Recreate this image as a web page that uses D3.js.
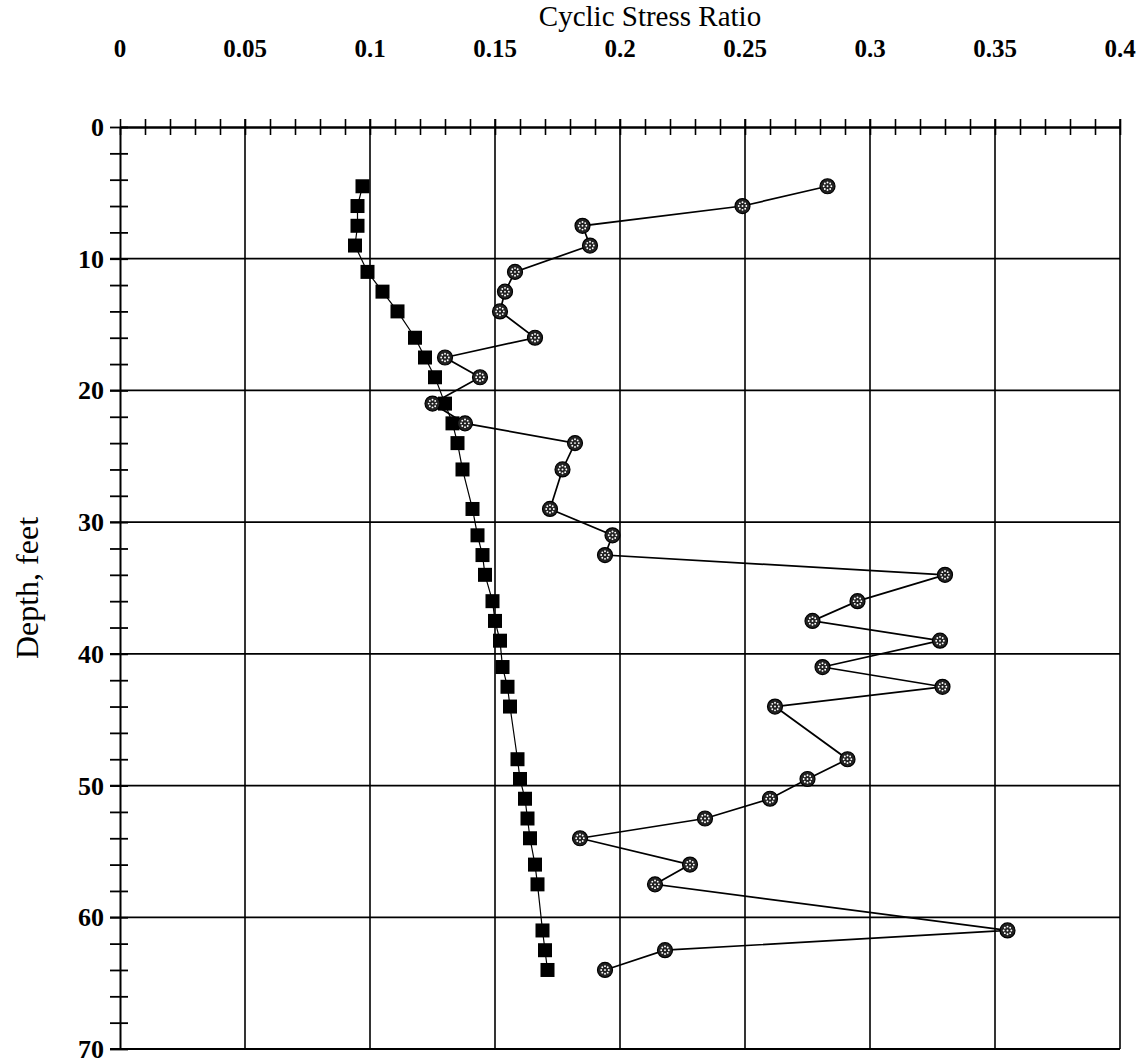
<!DOCTYPE html>
<html>
<head>
<meta charset="utf-8">
<script src="https://cdn.jsdelivr.net/npm/d3@7/dist/d3.min.js"></script>
<style>
  html, body { margin: 0; padding: 0; background: #fff; }
  svg { display: block; }
  text { font-family: "Liberation Serif", "Times New Roman", serif; fill: #000; }
</style>
</head>
<body>
<svg id="chart" width="1144" height="1063"></svg>
<script>
// Sample depths (feet) shared by both profiles
const depths = [4.5, 6, 7.5, 9, 11, 12.5, 14, 16, 17.5, 19, 21, 22.5, 24, 26, 29, 31, 32.5,
  34, 36, 37.5, 39, 41, 42.5, 44, 48, 49.5, 51, 52.5, 54, 56, 57.5, 61, 62.5, 64];

// Induced cyclic stress ratio (square markers)
const csrInduced = [0.097, 0.095, 0.095, 0.094, 0.099, 0.105, 0.111, 0.118, 0.122, 0.126, 0.130,
  0.133, 0.135, 0.137, 0.141, 0.143, 0.145, 0.146, 0.149, 0.150, 0.152, 0.153, 0.155, 0.156,
  0.159, 0.160, 0.162, 0.163, 0.164, 0.166, 0.167, 0.169, 0.170, 0.171];

// Cyclic resistance ratio (patterned circle markers)
const csrResistance = [0.283, 0.249, 0.185, 0.188, 0.158, 0.154, 0.152, 0.166, 0.130, 0.144,
  0.125, 0.138, 0.182, 0.177, 0.172, 0.197, 0.194, 0.330, 0.295, 0.277, 0.328, 0.281, 0.329,
  0.262, 0.291, 0.275, 0.260, 0.234, 0.184, 0.228, 0.214, 0.355, 0.218, 0.194];

const xTickValues = [0, 0.05, 0.1, 0.15, 0.2, 0.25, 0.3, 0.35, 0.4];
const xTickLabels = ["0", "0.05", "0.1", "0.15", "0.2", "0.25", "0.3", "0.35", "0.4"];
const yTickValues = [0, 10, 20, 30, 40, 50, 60, 70];
const yTickLabels = ["0", "10", "20", "30", "40", "50", "60", "70"];

const margin = { left: 120, right: 24, top: 127, bottom: 14 };
const W = 1144, H = 1063;
const svg = d3.select("#chart");

const x = d3.scaleLinear().domain([0, 0.4]).range([margin.left, W - margin.right]);
const y = d3.scaleLinear().domain([0, 70]).range([margin.top, H - margin.bottom]);

const g = svg.append("g");

// Grid lines
g.append("g").selectAll("line").data(xTickValues.slice(1)).join("line")
  .attr("x1", d => x(d)).attr("x2", d => x(d))
  .attr("y1", y(0) - 8).attr("y2", y(70))
  .attr("stroke", "#000").attr("stroke-width", 1.6);
g.append("g").selectAll("line").data(yTickValues.slice(1)).join("line")
  .attr("x1", x(0) - 10).attr("x2", x(0.4))
  .attr("y1", d => y(d)).attr("y2", d => y(d))
  .attr("stroke", "#000").attr("stroke-width", 1.8);

// Top axis: line with minor ticks every 0.01
const topAxis = d3.axisTop(x)
  .tickValues(d3.range(0, 41).map(i => i / 100))
  .tickSize(8).tickSizeOuter(0).tickFormat("");
const topG = g.append("g").attr("transform", `translate(0,${y(0)})`).call(topAxis);
topG.select(".domain").attr("stroke-width", 2.4);
topG.selectAll(".tick line").attr("y2", 16).attr("transform", "translate(0,-8)")
  .attr("y1", 0).attr("stroke-width", 1.6);

// Left axis: line with minor ticks every 2 feet
const leftAxis = d3.axisLeft(y)
  .tickValues(d3.range(0, 71, 2))
  .tickSize(10).tickSizeOuter(0).tickFormat("");
const leftG = g.append("g").attr("transform", `translate(${x(0)},0)`).call(leftAxis);
leftG.select(".domain").attr("stroke-width", 2);
leftG.selectAll(".tick line").attr("x1", 8).attr("stroke-width", 1.8);

// Top tick labels
g.append("g").selectAll("text").data(xTickValues).join("text")
  .attr("x", d => x(d)).attr("y", 57)
  .attr("text-anchor", "middle")
  .attr("font-size", 25).attr("font-weight", "bold")
  .text((d, i) => xTickLabels[i]);

// Left tick labels
g.append("g").selectAll("text").data(yTickValues).join("text")
  .attr("x", x(0) - 16).attr("y", d => y(d) + 9)
  .attr("text-anchor", "end")
  .attr("font-size", 26).attr("font-weight", "bold")
  .text((d, i) => yTickLabels[i]);

// Axis titles
svg.append("text").attr("x", 650).attr("y", 26)
  .attr("text-anchor", "middle").attr("font-size", 29)
  .text("Cyclic Stress Ratio");
svg.append("text")
  .attr("transform", `translate(38,${y(35)}) rotate(-90)`)
  .attr("text-anchor", "middle").attr("font-size", 32)
  .text("Depth, feet");

// Profile lines
const induced = depths.map((d, i) => ({ depth: d, v: csrInduced[i] }));
const resist = depths.map((d, i) => ({ depth: d, v: csrResistance[i] }));
const line = d3.line().x(d => x(d.v)).y(d => y(d.depth));

g.append("path").datum(induced).attr("d", line)
  .attr("fill", "none").attr("stroke", "#000").attr("stroke-width", 1.2);
g.append("path").datum(resist).attr("d", line)
  .attr("fill", "none").attr("stroke", "#000").attr("stroke-width", 1.7);

// Square markers
g.append("g").selectAll("rect").data(induced).join("rect")
  .attr("x", d => x(d.v) - 7).attr("y", d => y(d.depth) - 7)
  .attr("width", 14).attr("height", 14).attr("fill", "#000");

// Patterned circle markers
const circ = g.append("g").selectAll("g").data(resist).join("g")
  .attr("transform", d => `translate(${x(d.v)},${y(d.depth)})`);
circ.append("circle").attr("r", 7.5).attr("fill", "#222").attr("stroke", "#000").attr("stroke-width", 1.2);
const dots = [[0, 0], [-2.7, -2.7], [2.7, -2.7], [-2.7, 2.7], [2.7, 2.7], [0, -3.8], [0, 3.8], [-3.8, 0], [3.8, 0]];
circ.selectAll("circle.dot").data(dots).join("circle").attr("class", "dot")
  .attr("cx", p => p[0]).attr("cy", p => p[1]).attr("r", 0.95).attr("fill", "#fff");
</script>
</body>
</html>
